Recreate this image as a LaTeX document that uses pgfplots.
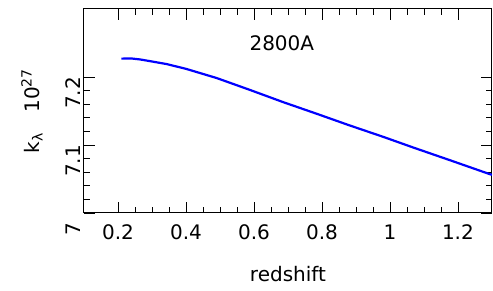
\documentclass[border=0pt]{standalone}
\usepackage{fontspec}
\setmainfont{DejaVu Sans}
\usepackage{pgfplots}
\pgfplotsset{compat=1.18}
\begin{document}
\begin{tikzpicture}
\begin{axis}[
  scale only axis, width=408pt, height=204pt,
  xmin=0.1, xmax=1.3, ymin=7, ymax=7.3,
  xtick={0.2,0.4,...,1.2}, ytick={7,7.1,7.2},
  minor x tick num=3, minor y tick num=4,
  tick align=inside, ticks=both,
  major tick length=11pt, minor tick length=6pt,
  axis line style={line width=1pt}, every tick/.style={black, line width=0.8pt},
  /pgf/number format/assume math mode=true,
  tick label style={font=\fontsize{20}{24}\selectfont},
  label style={font=\fontsize{20}{24}\selectfont},
  yticklabel style={rotate=90, anchor=south, xshift=-16pt},
  xticklabel style={yshift=-8pt},
  xlabel={redshift},
  xlabel style={yshift=-20pt},
  ylabel={k\textsubscript{λ}\quad 10\textsuperscript{27}},
  ylabel style={yshift=16pt},
  clip=false,
]
\addplot[blue, line width=2.2pt] coordinates {
(0.21,7.227) (0.24,7.2272) (0.265,7.2258) (0.30,7.2228) (0.343,7.219)
(0.40,7.212) (0.49,7.1985) (0.588,7.181) (0.686,7.163) (0.784,7.146)
(0.88,7.129) (0.98,7.112) (1.07,7.096) (1.18,7.077) (1.30,7.056)
};
\node[font=\fontsize{20}{24}\selectfont] at (axis cs:0.682,7.249) {2800A};
\end{axis}
\path[use as bounding box] ([shift={(-84pt,-78pt)}]current axis.south west) rectangle ([shift={(1pt,9pt)}]current axis.north east);
\end{tikzpicture}
\end{document}
